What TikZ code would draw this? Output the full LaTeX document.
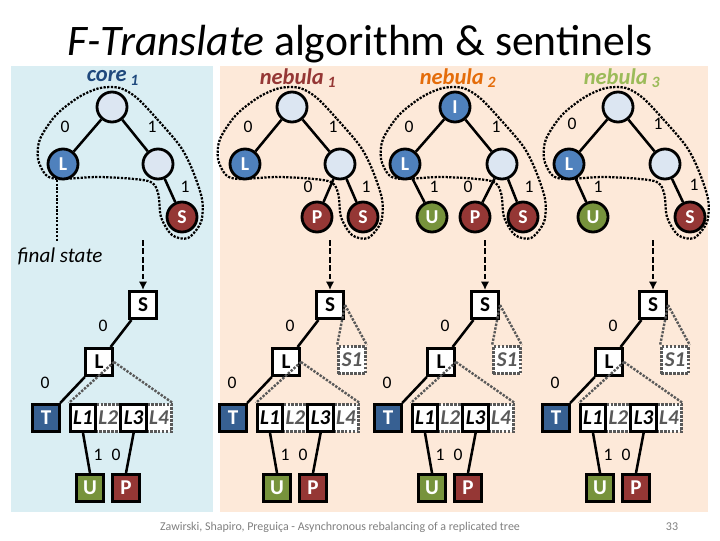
\documentclass[tikz,border=0pt]{standalone}
\usepackage{fontspec}
\setmainfont{Carlito}
\usepackage{tikz}
\usetikzlibrary{arrows.meta,calc,positioning}
\definecolor{coreback}{HTML}{DAEEF3}
\definecolor{nebback}{HTML}{FDE9D9}
\definecolor{pale}{HTML}{DCE6F2}
\definecolor{lblue}{HTML}{4F81BD}
\definecolor{tblue}{HTML}{376092}
\definecolor{sred}{HTML}{953735}
\definecolor{ugreen}{HTML}{77933C}
\definecolor{corecol}{HTML}{1F497D}
\definecolor{neborange}{HTML}{E46C0A}
\definecolor{nebolive}{HTML}{9BBB59}
\definecolor{ghost}{HTML}{595959}
\definecolor{footgray}{HTML}{7F7F7F}

\tikzset{
  vert/.style={draw,circle,line width=2pt,minimum size=0.75cm,inner sep=0pt,
               text=white,font=\bfseries\fontsize{14}{14}\selectfont},
  blank/.style={vert,fill=pale},
  bx/.style={draw,line width=2pt,minimum width=0.68cm,minimum height=0.68cm,inner sep=0pt,
             font=\bfseries\fontsize{15}{15}\selectfont},
  slot/.style={bx,minimum width=0.64cm,fill=white,font=\bfseries\itshape\fontsize{15}{15}\selectfont},
  ghostbox/.style={slot,draw=ghost,text=ghost,line width=1.8pt,dash pattern=on 1.8pt off 1pt},
  link/.style={line width=1.8pt},
  elbl/.style={font=\fontsize{12.5}{12.5}\selectfont,inner sep=0pt},
  blob/.style={line width=1.6pt,dash pattern=on 1.6pt off 1pt},
  guide/.style={draw=ghost,line width=1.7pt,dash pattern=on 1.7pt off 1pt},
  flow/.style={line width=1.5pt,dash pattern=on 4pt off 2pt,-{Latex[length=6pt,width=6pt]}},
  treelbl/.style={font=\bfseries\itshape\fontsize{16}{16}\selectfont}
}

\begin{document}
\begin{tikzpicture}[x=0.025cm,y=-0.025cm]
\useasboundingbox (0,0) rectangle (720,540);
\fill[coreback] (11,66) rectangle (213,512);
\fill[nebback] (220,66) rectangle (708,512);
\node (title) at (360,55) [anchor=base,font=\fontsize{31}{34}\selectfont] {\textit{F-Translate} algorithm \& sentinels};

% outlines round the top trees
\foreach \x in {112,292,455,618}
  \draw[blob,shift={(\x,107)}] plot[smooth cycle] coordinates {(25,-9) (45,12) (68,39) (80,62) (90,92) (89,115) (76,131) (60,128) (49,110) (46,86) (36,74) (-12,70) (-52,72) (-66,68) (-74,52) (-72,32) (-56,8) (-33,-10) (-12,-19) (8,-19)};
\coordinate (tailtop) at (57,180); \coordinate (tailend) at (57,242);
\draw[blob] (tailtop) -- (tailend);
\node (final) at (60,256) [font=\itshape\fontsize{15}{15}\selectfont] {final state};

% core
\node[treelbl,text=corecol] (corelbl) at (113,78) {core\,\textsubscript{1}};
\node[blank] (cr) at (112,107) {};
\node[vert,fill=lblue] (cl) at (63,164) {L};
\node[blank] (cm) at (158,164) {};
\node[vert,fill=sred] (cs) at (182,217) {S};
\draw[link] (cr)--(cl); \draw[link] (cr)--(cm); \draw[link] (cm)--(cs);
\node[elbl] (c0) at (65,127) {0}; \node[elbl] (c1) at (152,127) {1}; \node[elbl] (c2) at (185,187) {1};

% nebula 1
\node[treelbl,text=sred] (nalbl) at (298,78) {nebula\,\textsubscript{1}};
\node[blank] (ar) at (292,107) {};
\node[vert,fill=lblue] (al) at (245,164) {L};
\node[blank] (am) at (340,164) {};
\node[vert,fill=sred] (ap) at (317,217) {P};
\node[vert,fill=sred] (as) at (363,217) {S};
\draw[link] (ar)--(al); \draw[link] (ar)--(am); \draw[link] (am)--(ap); \draw[link] (am)--(as);
\node[elbl] (a0) at (248,127) {0}; \node[elbl] (a1) at (333,127) {1};
\node[elbl] (a2) at (308,187) {0}; \node[elbl] (a3) at (366,187) {1};

% nebula 2
\node[treelbl,text=neborange] (nblbl) at (458,78) {nebula\,\textsubscript{2}};
\node[vert,fill=lblue] (br) at (455,107) {I};
\node[vert,fill=lblue] (bl) at (405,164) {L};
\node[blank] (bm) at (502,164) {};
\node[vert,fill=ugreen] (bu) at (432,217) {U};
\node[vert,fill=sred] (bp) at (475,217) {P};
\node[vert,fill=sred] (bs) at (523,217) {S};
\draw[link] (br)--(bl); \draw[link] (br)--(bm); \draw[link] (bl)--(bu); \draw[link] (bm)--(bp); \draw[link] (bm)--(bs);
\node[elbl] (b0) at (409,127) {0}; \node[elbl] (b1) at (496,127) {1}; \node[elbl] (b2) at (434,187) {1};
\node[elbl] (b3) at (468,187) {0}; \node[elbl] (b4) at (529,187) {1};

% nebula 3
\node[treelbl,text=nebolive] (nclbl) at (622,78) {nebula\,\textsubscript{3}};
\node[blank] (dr) at (618,107) {};
\node[vert,fill=lblue] (dl) at (569,164) {L};
\node[blank] (dm) at (665,164) {};
\node[vert,fill=ugreen] (du) at (593,217) {U};
\node[vert,fill=sred] (ds) at (690,217) {S};
\draw[link] (dr)--(dl); \draw[link] (dr)--(dm); \draw[link] (dl)--(du); \draw[link] (dm)--(ds);
\node[elbl] (d0) at (572,124) {0}; \node[elbl] (d1) at (658,124) {1};
\node[elbl] (d2) at (598,187) {1}; \node[elbl] (d3) at (694,185) {1};

% translated trees
\foreach \x [count=\i from 0] in {143,330,485,653}{
  \node[bx,fill=white] (S\i) at (\x,305) {S};
  \node[bx,fill=white] (L\i) at (\x-44,362) {L};
  \node[bx,fill=tblue,text=white] (T\i) at (\x-97,418) {T};
  \node[ghostbox] (B\i) at (\x-34.7,418) {L2};
  \node[ghostbox] (D\i) at (\x+15.9,418) {L4};
  \node[slot] (A\i) at (\x-60,418) {L1};
  \node[slot] (C\i) at (\x-9.4,418) {L3};
  \node[bx,fill=ugreen,text=white] (U\i) at (\x-53,488) {U};
  \node[bx,fill=sred,text=white] (P\i) at (\x-17,488) {P};
  \coordinate (in\i) at (\x,240);
  \draw[flow] (in\i) -- (S\i);
  \draw[link] (S\i)--(L\i); \draw[link] (L\i)--(T\i);
  \draw[link] (A\i.south)--(U\i.north); \draw[link] (C\i.south)--(P\i.north);
  \draw[guide] (L\i.east)--(A\i.north west); \draw[guide] (L\i.east)--(D\i.north east);
  \node[elbl] (sl\i) at (\x-40,326) {0}; \node[elbl] (lt\i) at (\x-98,383) {0};
  \node[elbl] (au\i) at (\x-45,455) {1}; \node[elbl] (cp\i) at (\x-27,455) {0};
}
\foreach \x [count=\i] in {330,485,653}{
  \node[ghostbox,minimum width=0.68cm] (X\i) at (\x+22,360) {S1};
  \draw[guide] (S\i.east)--(X\i.north west); \draw[guide] (S\i.east)--(X\i.north east);
}

\node (foot) at (340,527) [text=footgray,font=\fontsize{8.5}{10}\selectfont] {Zawirski, Shapiro, Preguiça - Asynchronous rebalancing of a replicated tree};
\node (page) at (672,527) [text=footgray,font=\fontsize{8.5}{10}\selectfont] {33};
\end{tikzpicture}
\end{document}
